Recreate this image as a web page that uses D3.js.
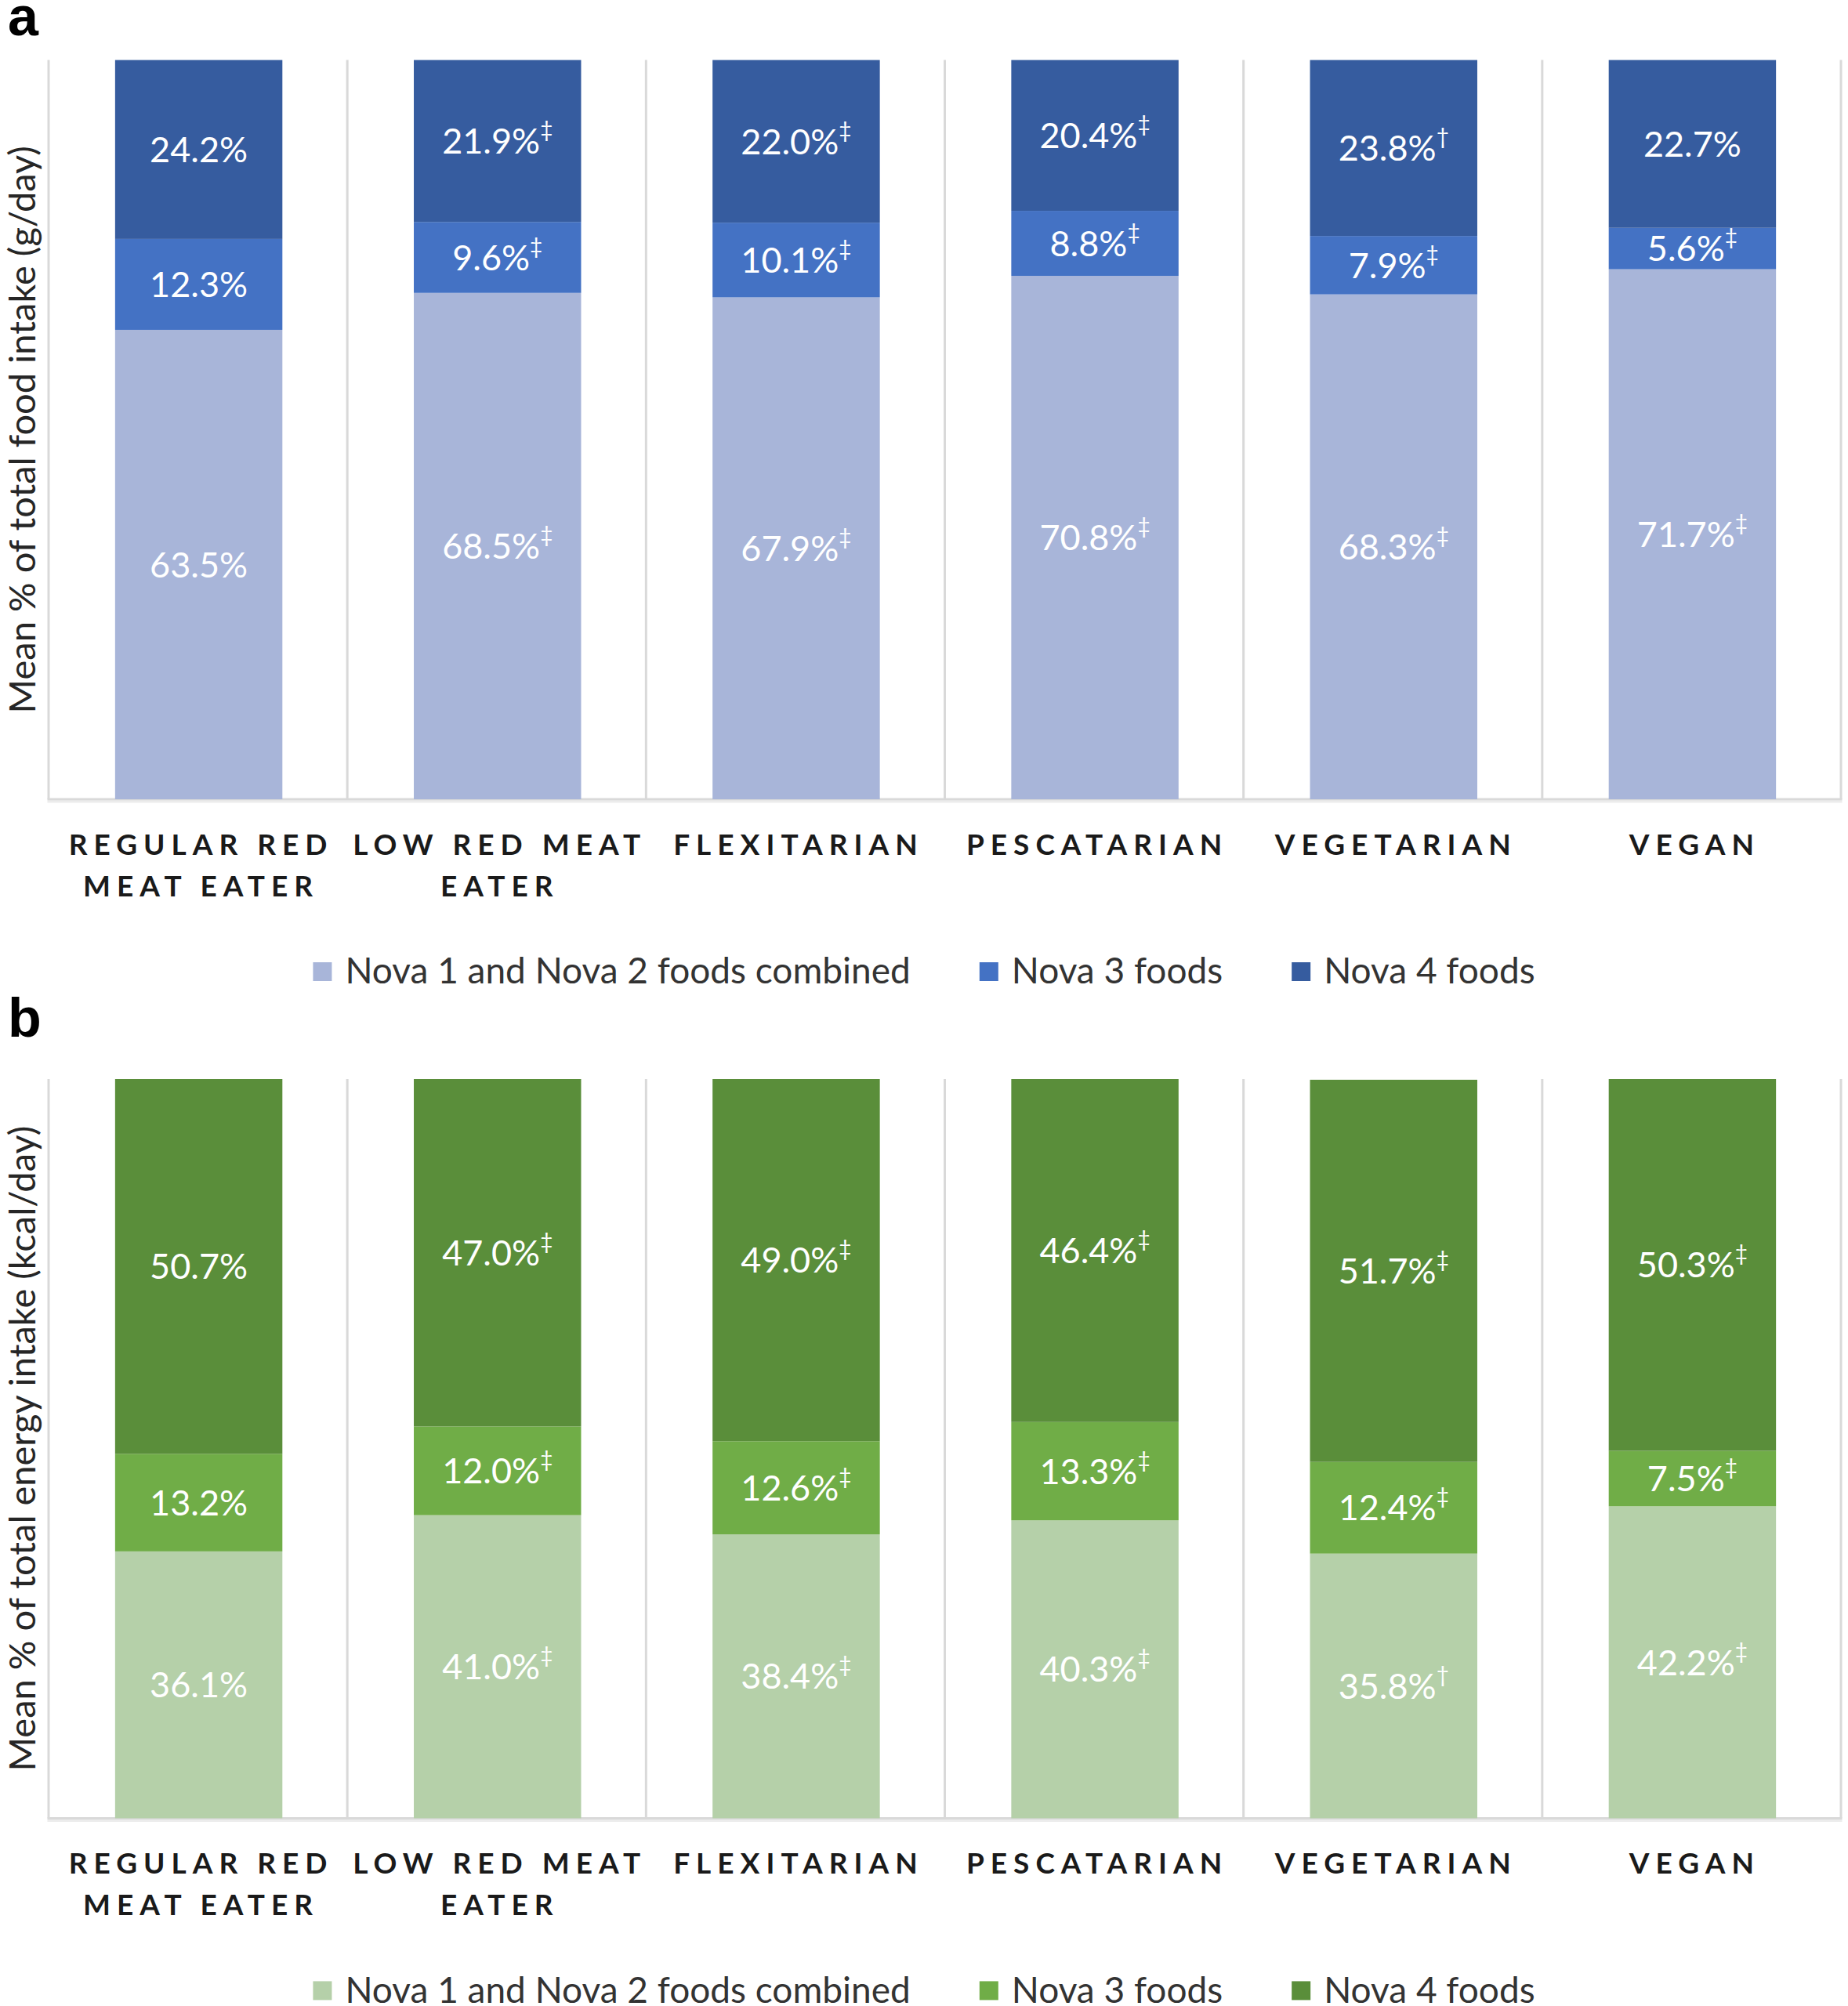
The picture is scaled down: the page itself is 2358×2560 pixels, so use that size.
<!DOCTYPE html>
<html><head><meta charset="utf-8">
<script src="https://cdn.jsdelivr.net/npm/d3@7"></script>
<style>html,body{margin:0;padding:0;background:#fff;} svg{display:block;}</style>
</head><body>
<script>
// ---------- DATA ----------
const categories = ["REGULAR RED MEAT EATER", "LOW RED MEAT EATER", "FLEXITARIAN", "PESCATARIAN", "VEGETARIAN", "VEGAN"];
const categoryLines = [["REGULAR RED", "MEAT EATER"], ["LOW RED MEAT", "EATER"], ["FLEXITARIAN"], ["PESCATARIAN"], ["VEGETARIAN"], ["VEGAN"]];
const seriesNames = ["Nova 1 and Nova 2 foods combined", "Nova 3 foods", "Nova 4 foods"];

// Panel a: mean % of total food intake (g/day)
const foodNova12 = [63.5, 68.5, 67.9, 70.8, 68.3, 71.7];
const foodNova3  = [12.3, 9.6, 10.1, 8.8, 7.9, 5.6];
const foodNova4  = [24.2, 21.9, 22.0, 20.4, 23.8, 22.7];
const foodNova12Sig = ["", "‡", "‡", "‡", "‡", "‡"];
const foodNova3Sig  = ["", "‡", "‡", "‡", "‡", "‡"];
const foodNova4Sig  = ["", "‡", "‡", "‡", "†", ""];

// Panel b: mean % of total energy intake (kcal/day)
const energyNova12 = [36.1, 41.0, 38.4, 40.3, 35.8, 42.2];
const energyNova3  = [13.2, 12.0, 12.6, 13.3, 12.4, 7.5];
const energyNova4  = [50.7, 47.0, 49.0, 46.4, 51.7, 50.3];
const energyNova12Sig = ["", "‡", "‡", "‡", "†", "‡"];
const energyNova3Sig  = ["", "‡", "‡", "‡", "‡", "‡"];
const energyNova4Sig  = ["", "‡", "‡", "‡", "‡", "‡"];

const blueColors  = ["#a8b5d9", "#4472c4", "#365c9f"];
const greenColors = ["#b5d0a9", "#70ad47", "#5a8e3a"];

// ---------- DRAW ----------
const W = 2358, H = 2560;
const FONT = "Lato, 'Open Sans', sans-serif";
const svg = d3.select("body").append("svg").attr("width", W).attr("height", H);
svg.append("rect").attr("width", W).attr("height", H).attr("fill", "#fff");

function drawPanel(o) {
  const g = svg.append("g").attr("transform", `translate(0,${o.offsetY})`);
  const top = 76.6, bottom = 1020, left = 62, right = 2349;
  const idx = d3.range(categories.length);
  const x = d3.scaleBand().domain(idx).range([left, right]).padding(0);
  const y = d3.scaleLinear().domain([0, 100]).range([bottom, top]);
  const keys = ["s0", "s1", "s2"];
  const rows = idx.map(i => ({ i, s0: o.values[0][i], s1: o.values[1][i], s2: o.values[2][i] }));
  const stacked = d3.stack().keys(keys)(rows);

  // separators
  const edges = idx.map(i => x(i)).concat([right]);
  g.selectAll("line.sep").data(edges).join("line").attr("class", "sep")
    .attr("x1", d => d).attr("x2", d => d).attr("y1", top).attr("y2", bottom)
    .attr("stroke", "#d9d9d9").attr("stroke-width", 3);
  // baseline
  g.append("line").attr("x1", left - 1.5).attr("x2", right + 1.5).attr("y1", bottom + 3).attr("y2", bottom + 3)
    .attr("stroke", "#ececec").attr("stroke-width", 3);
  g.append("line").attr("x1", left - 1.5).attr("x2", right + 1.5).attr("y1", bottom).attr("y2", bottom)
    .attr("stroke", "#d9d9d9").attr("stroke-width", 3);

  const bw = x.bandwidth() * 0.56;
  const bx = i => x(i) + (x.bandwidth() - bw) / 2 + 1;

  stacked.forEach((layer, k) => {
    g.append("g").selectAll("rect").data(layer).join("rect")
      .attr("x", d => bx(d.data.i)).attr("width", bw)
      .attr("y", d => y(d[1])).attr("height", d => y(d[0]) - y(d[1]))
      .attr("fill", o.colors[k]);
  });

  // data labels
  stacked.forEach((layer, k) => {
    const t = g.append("g").selectAll("text").data(layer).join("text")
      .attr("x", d => bx(d.data.i) + bw / 2)
      .attr("y", d => (y(d[0]) + y(d[1])) / 2)
      .attr("text-anchor", "middle")
      .attr("font-family", FONT).attr("font-size", 45).attr("fill", "#ffffff");
    t.append("tspan").attr("dy", "0.36em").text(d => d.data[keys[k]].toFixed(1) + "%");
    t.append("tspan").attr("dy", "-0.75em").attr("font-size", 28)
      .text(d => o.sigs[k][d.data.i]);
  });

  // category labels
  const cl = g.append("g").selectAll("text").data(idx).join("text")
    .attr("text-anchor", "middle").attr("font-family", FONT).attr("font-weight", 700)
    .attr("font-size", 37).attr("letter-spacing", 8).attr("fill", "#1a1a1a")
    .attr("y", 1091);
  cl.each(function (i) {
    const el = d3.select(this);
    categoryLines[i].forEach((ln, j) => {
      el.append("tspan").attr("x", x(i) + x.bandwidth() / 2 + 4).attr("dy", j === 0 ? 0 : 53).text(ln);
    });
  });

  // y title
  g.append("text").attr("transform", `translate(29,${(top + bottom) / 2}) rotate(-90)`)
    .attr("text-anchor", "middle").attr("dy", "0.35em")
    .attr("font-family", FONT).attr("font-size", 47).attr("fill", "#262626")
    .text(o.yTitle);

  // legend
  const lg = g.append("g").attr("transform", "translate(0,1239)");
  const items = lg.selectAll("g").data(seriesNames).join("g");
  items.append("rect").attr("width", 24).attr("height", 24).attr("y", -11)
    .attr("fill", (d, k) => o.colors[k]);
  items.append("text").attr("x", 41).attr("dy", "0.35em")
    .attr("font-family", FONT).attr("font-size", 46).attr("fill", "#333333").text(d => d);
  const widths = [];
  items.each(function () { widths.push(41 + d3.select(this).select("text").node().getComputedTextLength()); });
  const gap = 88;
  const total = d3.sum(widths) + gap * (widths.length - 1);
  let cx = 1179 - total / 2;
  items.attr("transform", (d, k) => { const xx = cx; cx += widths[k] + gap; return `translate(${xx},0)`; });

  // panel letter
  svg.append("text").attr("x", 10).attr("y", o.letterY)
    .attr("font-family", "'Liberation Sans', Arial, sans-serif").attr("font-weight", 700)
    .attr("font-size", 70).attr("fill", "#000").text(o.letter);
}

drawPanel({
  offsetY: 0, letter: "a", letterY: 45,
  yTitle: "Mean % of total food intake (g/day)",
  values: [foodNova12, foodNova3, foodNova4],
  sigs: [foodNova12Sig, foodNova3Sig, foodNova4Sig],
  colors: blueColors
});
drawPanel({
  offsetY: 1300.4, letter: "b", letterY: 1323,
  yTitle: "Mean % of total energy intake (kcal/day)",
  values: [energyNova12, energyNova3, energyNova4],
  sigs: [energyNova12Sig, energyNova3Sig, energyNova4Sig],
  colors: greenColors
});
</script>
</body></html>
